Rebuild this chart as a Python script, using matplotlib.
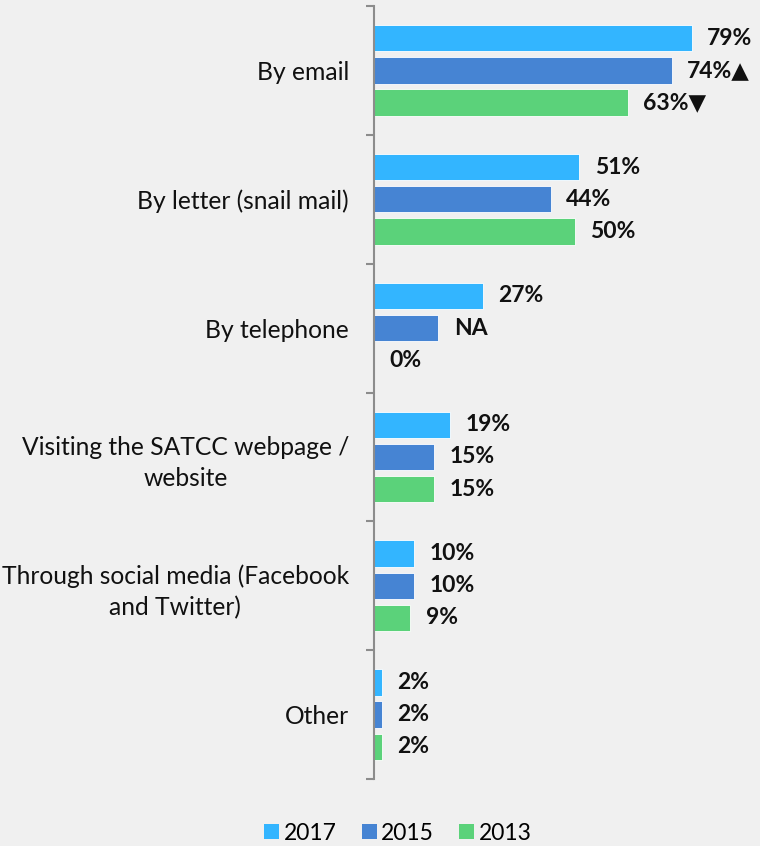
import matplotlib
matplotlib.use("Agg")
import matplotlib.pyplot as plt
import numpy as np
from matplotlib.patches import Patch

categories = ["By email", "By letter (snail mail)", "By telephone",
              "Visiting the SATCC webpage /\nwebsite",
              "Through social media (Facebook\nand Twitter)", "Other"]
series_names = ["2017", "2015", "2013"]
v2017 = [79, 51, 27, 19, 10, 2]
v2015 = [74, 44, 16, 15, 10, 2]
v2013 = [63, 50, 0, 15, 9, 2]
l2017 = ["79%", "51%", "27%", "19%", "10%", "2%"]
l2015 = ["74%▲", "44%", "NA", "15%", "10%", "2%"]
l2013 = ["63%▼", "50%", "0%", "15%", "9%", "2%"]
colors = ["#33b5ff", "#4684d3", "#5bd27a"]

bg = "#f0f0f0"
fig = plt.figure(figsize=(7.6, 8.46), dpi=100, facecolor=bg)
ax = fig.add_axes([374/760, 1-779/846, 1-374/760, (779-6)/846])
ax.set_facecolor(bg)

y = np.arange(len(categories))
offsets = [-0.25, 0, 0.25]
fam = ["Lato", "DejaVu Sans"]
for vals, labs, off, c in zip([v2017, v2015, v2013], [l2017, l2015, l2013], offsets, colors):
    ax.barh(y + off, vals, height=0.205, color=c, edgecolor="white", linewidth=0.6)
    for yi, v, lab in zip(y, vals, labs):
        ax.annotate(lab, (v, yi + off), xytext=(11, 0), textcoords="offset points",
                    ha="left", va="center", fontsize=16.5, fontweight="bold",
                    family=fam, color="#111111", annotation_clip=False)

ax.set_xlim(0, 386/4.025)
ax.set_ylim(len(categories) - 0.5, -0.5)
for s in ["top", "right", "bottom"]:
    ax.spines[s].set_visible(False)
ax.spines["left"].set_color("#8c8c8c")
ax.spines["left"].set_linewidth(1.5)
ax.set_xticks([])
ax.set_yticks(np.arange(-0.5, len(categories)), minor=False)
ax.set_yticklabels([])
ax.tick_params(axis="y", which="major", length=6, width=1.5, color="#8c8c8c", direction="out")
ax.set_yticks(y, minor=True)
ax.set_yticklabels(categories, minor=True, family=fam, fontsize=17.7, color="#111111")
for lbl in ax.get_yticklabels(minor=True):
    lbl.set_multialignment("center")
    lbl.set_linespacing(1.4)
ax.tick_params(axis="y", which="minor", length=0, pad=18)

handles = [Patch(facecolor=c, edgecolor="none") for c in colors]
fig.legend(handles, series_names, loc="center", bbox_to_anchor=(398/760, 1-833/846),
           ncol=3, frameon=False, handlelength=0.65, handleheight=0.65,
           handletextpad=0.2, columnspacing=1.1, prop={"family": fam, "size": 16.5})

fig.savefig("out.png", dpi=100, facecolor=bg)
